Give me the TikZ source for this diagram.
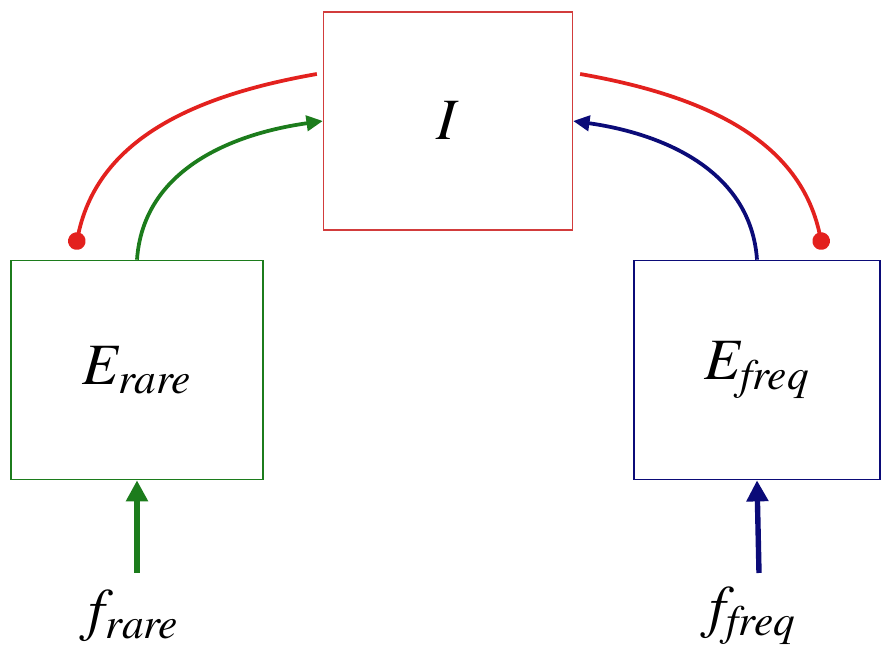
\documentclass[tikz,border=0pt]{standalone}
\usepackage{mathptmx}
\usetikzlibrary{arrows.meta}
\definecolor{inhred}{HTML}{E3211E}
\definecolor{boxred}{HTML}{D23C3C}
\definecolor{rarecol}{HTML}{1C7C1C}
\definecolor{freqcol}{HTML}{0B0B78}
\newcommand{\biglabel}[1]{\fontsize{50}{56}\selectfont$#1$}

\tikzset{
  unitbox/.style={draw,line width=1.4pt,fill=white,inner sep=0pt},
  excite/.style={line width=3.2pt,-{Triangle[length=14pt,width=13pt]}},
  inhibit/.style={line width=3.2pt,draw=inhred,-{Circle[length=15pt]}},
  feed/.style={line width=4.6pt,-{Triangle[length=18pt,width=18pt]}}
}

\begin{document}
\begin{tikzpicture}[x=0.03cm,y=0.03cm]
  \useasboundingbox (0,0) rectangle (883,649);

  \node[unitbox,draw=boxred,line width=1.1pt,minimum width=7.47cm,minimum height=6.54cm] (I) at (448,528) {\biglabel{I}};
  \node[unitbox,draw=rarecol,minimum width=7.56cm,minimum height=6.57cm] (Erare) at (137,279) {\biglabel{E_{\mathit{rare}}}};
  \node[unitbox,draw=freqcol,minimum width=7.38cm,minimum height=6.57cm] (Efreq) at (757,279) {\biglabel{E_{\mathit{freq}}}};

  \node (frare) at (129,33) {\biglabel{f_{\mathit{rare}}}};
  \node (ffreq) at (748,33) {\biglabel{f_{\mathit{freq}}}};

  \coordinate (rarein) at (137,76);
  \coordinate (freqin) at (759,76);
  \coordinate (inhLs) at ([shift={(-6,47)}]I.west);
  \coordinate (inhRs) at ([shift={(7,47)}]I.east);
  \coordinate (inhLe) at ([shift={(-62,10)}]Erare.north);
  \coordinate (inhRe) at ([shift={(66,10)}]Efreq.north);

  \draw[inhibit] (inhLs) to[out=190,in=78] (inhLe);
  \draw[inhibit] (inhRs) to[out=-10,in=102] (inhRe);
  \draw[excite,draw=rarecol] (Erare.north) to[out=86,in=188] (I.west);
  \draw[excite,draw=freqcol] (Efreq.north) to[out=94,in=-8] (I.east);

  \draw[feed,draw=rarecol] (rarein) -- (Erare.south);
  \draw[feed,draw=freqcol] (freqin) -- (Efreq.south);
\end{tikzpicture}
\end{document}
